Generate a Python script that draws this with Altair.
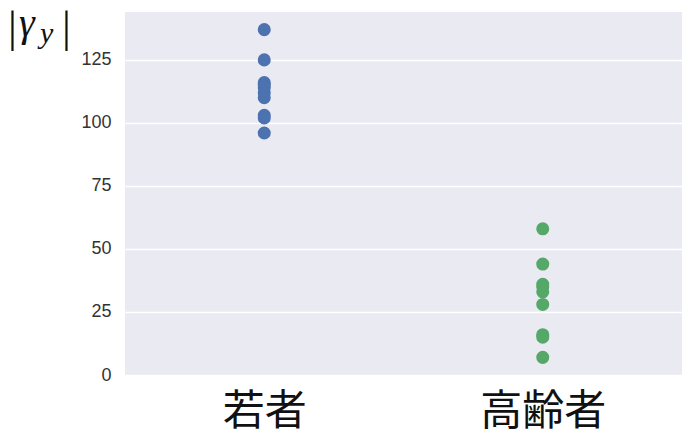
import altair as alt
import pandas as pd

groups = ["若者", "高齢者"]
young = [137, 125, 116, 115, 114, 112, 110, 103, 102, 96]
old = [58, 44, 36, 35, 33, 28, 16, 15, 7]
y_ticks = [0, 25, 50, 75, 100, 125]
colors = ["#4C72B0", "#55A868"]

df = pd.DataFrame(
    [{"group": groups[0], "value": v} for v in young]
    + [{"group": groups[1], "value": v} for v in old]
)

W, H = 557, 363

points = alt.Chart(df).mark_circle(size=170, opacity=1).encode(
    x=alt.X("group:N", sort=groups,
            scale=alt.Scale(type="point", padding=0.5),
            axis=alt.Axis(title=None, labelAngle=0, labelFontSize=42,
                          labelFont="Noto Sans CJK JP", labelColor="#111111",
                          labelPadding=16, ticks=False, domain=False, grid=False)),
    y=alt.Y("value:Q",
            scale=alt.Scale(domain=[0, 144], nice=False, zero=False),
            axis=alt.Axis(title=None, values=y_ticks, labelFontSize=18,
                          labelFont="Liberation Sans", labelColor="#333333",
                          labelPadding=14, ticks=False, domain=False,
                          grid=True, gridColor="white", gridWidth=1.5)),
    color=alt.Color("group:N", sort=groups,
                    scale=alt.Scale(domain=groups, range=colors), legend=None),
)

tdf = pd.DataFrame({"t": [""]})
bar1 = alt.Chart(tdf).mark_text(text="|", font="Liberation Serif", fontSize=44,
                                align="left", baseline="alphabetic", color="#111111").encode(
    x=alt.value(-117), y=alt.value(30))
gam = alt.Chart(tdf).mark_text(text="γ", font="Liberation Serif", fontSize=40,
                               fontStyle="italic", align="left", baseline="alphabetic",
                               color="#111111").encode(x=alt.value(-106), y=alt.value(24))
sub = alt.Chart(tdf).mark_text(text="y", font="Liberation Serif", fontSize=30,
                               fontStyle="italic", align="left", baseline="alphabetic",
                               color="#111111").encode(x=alt.value(-85), y=alt.value(31))
bar2 = alt.Chart(tdf).mark_text(text="|", font="Liberation Serif", fontSize=44,
                                align="left", baseline="alphabetic", color="#111111").encode(
    x=alt.value(-63), y=alt.value(30))

chart = alt.layer(points, bar1, gam, sub, bar2).properties(
    width=W, height=H,
    autosize=alt.AutoSizeParams(type="none"),
    padding={"left": 125, "top": 12, "right": 0, "bottom": 60},
    background="white",
).configure_view(fill="#EAEAF2", stroke=None)

chart.save("out.html", embed_options={"renderer": "svg", "actions": False})
